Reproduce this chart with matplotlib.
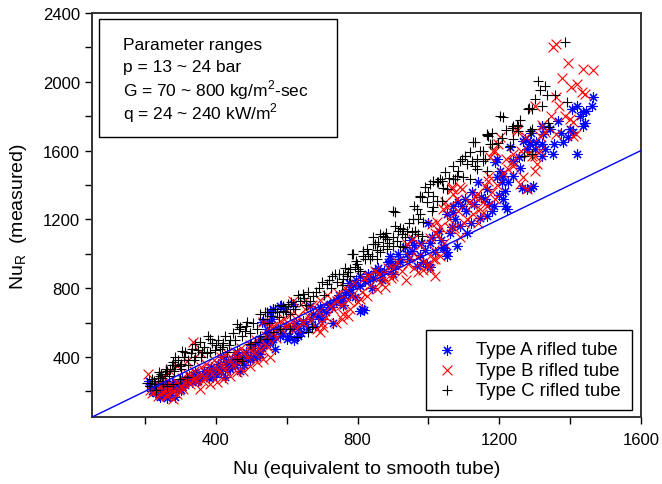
import numpy as np
import matplotlib
matplotlib.use("Agg")
from matplotlib import pyplot as plt
from matplotlib.patches import Rectangle
from matplotlib.ticker import MultipleLocator

plt.rcParams['font.family'] = ['Liberation Sans', 'DejaVu Sans']
plt.rcParams['mathtext.fontset'] = 'custom'
plt.rcParams['mathtext.rm'] = 'Liberation Sans'

# Nu (smooth-tube equivalent), Nu_R (measured)
type_a = [(1464, 1911), (1461, 1859), (1419, 1859), (1436, 1824), (1428, 1801), (1442, 1760), (1436, 1743),
          (1399, 1725), (1408, 1708), (1380, 1650), (1419, 1580), (1366, 1772), (1343, 1725), (1320, 1743),
          (1323, 1696), (1272, 1667), (1286, 1650), (1320, 1638), (1351, 1580), (1267, 1655), (1286, 1638),
          (1278, 1609), (1300, 1609), (1320, 1568), (1230, 1620), (1278, 1376), (1295, 1394), (1265, 1380),
          (1290, 1385), (1193, 1551), (1188, 1533), (1202, 1481), (1210, 1452), (1207, 1417), (1216, 1365),
          (1210, 1318), (1216, 1277), (1222, 1260), (1165, 1376), (1193, 1446), (1123, 1359), (1103, 1318),
          (1069, 1277), (1052, 1231), (1165, 1219), (1069, 1242), (1083, 1301), (1094, 1277), (1066, 1155),
          (1044, 1033), (1080, 1045), (1052, 1010), (984, 952), (919, 969), (891, 987), (891, 957), (939, 998),
          (953, 1016), (906, 928), (967, 928), (996, 940), (1004, 923), (1052, 987), (1041, 1039), (1140, 1420),
          (1150, 1330), (1180, 1250), (1120, 1180), (1010, 1100), (980, 1060), (950, 1080), (1000, 1180),
          (1030, 1130), (1110, 1120), (1240, 1540), (1260, 1500), (1170, 1290),
          (806, 667), (812, 678), (818, 672), (792, 748), (665, 696), (694, 690), (722, 707), (750, 725),
          (778, 795), (806, 812), (835, 853), (863, 893), (581, 696), (595, 678), (617, 707), (558, 620),
          (530, 603), (544, 562), (544, 521), (561, 504), (524, 504), (581, 521), (632, 521), (600, 504),
          (552, 486), (567, 446), (544, 603), (552, 661), (561, 678), (505, 399), (524, 417), (468, 318),
          (363, 289), (392, 283), (425, 283), (262, 160), (284, 166), (242, 166), (620, 500), (640, 540),
          (660, 560), (680, 580), (700, 620), (730, 600), (760, 700), (780, 760), (840, 800), (870, 850),
          (900, 880), (850, 900), (920, 950),
          (210, 260), (215, 230), (220, 200), (230, 190), (240, 180), (250, 200), (260, 190), (270, 210),
          (280, 220), (295, 230), (300, 250), (315, 255), (320, 270), (335, 280), (345, 300), (360, 290),
          (375, 310), (390, 320), (410, 330), (430, 350), (450, 360), (470, 380), (490, 400), (510, 420),
          (530, 450), (380, 280), (400, 300), (440, 330), (480, 350), (350, 260), (300, 210), (270, 180),
          (420, 400), (460, 430), (500, 470), (540, 500),
          (225, 215), (235, 245), (248, 225), (258, 240), (265, 195), (275, 250), (285, 240), (292, 205),
          (305, 270), (312, 235), (325, 290), (332, 255), (340, 310), (352, 280), (365, 320), (372, 295),
          (385, 340), (395, 310), (405, 360), (415, 320), (428, 370), (436, 340), (445, 390), (455, 350),
          (462, 410), (475, 395), (485, 430), (495, 380), (505, 450), (515, 400), (520, 480), (535, 470),
          (548, 540), (555, 500), (565, 520), (575, 560), (588, 540), (598, 580), (605, 520), (615, 560),
          (625, 600), (635, 570), (645, 610), (655, 590), (668, 620), (675, 650), (688, 640), (698, 680),
          (710, 660), (718, 700), (728, 690), (738, 730), (748, 760), (758, 740), (768, 780), (775, 830),
          (788, 820), (795, 850), (808, 870), (820, 840), (830, 880), (845, 860), (858, 920), (875, 900),
          (885, 950), (895, 930), (915, 1000), (935, 1040), (945, 970), (960, 1050), (975, 990), (990, 1020),
          (1005, 1060), (1020, 1010), (1035, 1080), (1060, 1120), (1075, 1200), (1090, 1160), (1105, 1250),
          (1130, 1290), (1145, 1210), (1160, 1320), (1185, 1280), (1200, 1340), (1225, 1420), (1240, 1450),
          (1255, 1560), (1290, 1700), (1305, 1650), (1330, 1610), (1355, 1640), (1375, 1700), (1395, 1680),
          (1405, 1840), (1445, 1830)]

type_b = [(1360, 2220), (1351, 2202), (1394, 2109), (1436, 2074), (1464, 2069), (1377, 2022), (1402, 1970),
          (1433, 1940), (1442, 1929), (1360, 1911), (1300, 1859), (1385, 1801), (1399, 1784), (1408, 1766),
          (1416, 1696), (1408, 1685), (1360, 1696), (1329, 1708), (1315, 1685), (1202, 1679), (1182, 1597),
          (1250, 1725), (1250, 1714), (1239, 1580), (1281, 1580), (1301, 1568), (1315, 1597), (1188, 1597),
          (1236, 1533), (1239, 1510), (1225, 1493), (1267, 1446), (1258, 1405), (1278, 1376), (1300, 1481),
          (1306, 1522), (1292, 1568), (1168, 1423), (1160, 1394), (1179, 1359), (1188, 1318), (1165, 1277),
          (1145, 1260), (1066, 1376), (1094, 1376), (1080, 1318), (1046, 1301), (1041, 1260), (1131, 1330),
          (1123, 1289), (1151, 1231), (1066, 1388), (1089, 1388), (1174, 1562), (1196, 1638), (1069, 1347),
          (1052, 1272), (1010, 1173), (1024, 1184), (1032, 1155), (1110, 1200), (1140, 1180), (1020, 1120),
          (1060, 1150), (1090, 1100),
          (942, 940), (967, 981), (1013, 969), (999, 928), (956, 1085), (939, 1056), (970, 894), (1004, 911),
          (1018, 969), (1018, 870), (877, 847), (936, 847), (984, 905), (1032, 987), (900, 870), (860, 880),
          (617, 725), (646, 719), (722, 696), (742, 725), (759, 649), (773, 638), (756, 620), (702, 574),
          (685, 562), (694, 545), (806, 736), (826, 754), (855, 795), (877, 806), (863, 835), (533, 603),
          (581, 608), (552, 579), (780, 680), (800, 720), (740, 600), (700, 600), (660, 640), (620, 600),
          (600, 580), (560, 540), (900, 920), (830, 870),
          (335, 486), (355, 428), (318, 376), (290, 347), (270, 318), (250, 289), (242, 230), (262, 172),
          (279, 155), (335, 271), (363, 259), (383, 242), (403, 254), (420, 271), (440, 289), (459, 312),
          (476, 318), (496, 347), (516, 370), (533, 387), (552, 399), (355, 213), (307, 213), (290, 184),
          (208, 300), (220, 190), (235, 170), (245, 185), (255, 200), (265, 215), (280, 200), (300, 230),
          (320, 260), (340, 280), (360, 300), (380, 320), (400, 340), (420, 360), (440, 380), (460, 400),
          (480, 420), (500, 440), (520, 450), (540, 470),
          (215, 210), (228, 200), (238, 215), (252, 230), (260, 180), (268, 240), (276, 225), (288, 260),
          (296, 210), (304, 280), (310, 250), (322, 300), (328, 240), (338, 320), (345, 260), (358, 340),
          (366, 280), (372, 360), (388, 300), (395, 380), (408, 320), (415, 400), (425, 330), (432, 420),
          (448, 350), (455, 430), (465, 370), (472, 450), (488, 400), (495, 470), (508, 420), (512, 500),
          (525, 440), (540, 520), (548, 460), (560, 580), (570, 510), (585, 560), (592, 620), (605, 590),
          (612, 650), (625, 570), (632, 640), (645, 600), (652, 680), (665, 610), (672, 700), (688, 660),
          (695, 730), (710, 630), (715, 760), (730, 680), (745, 770), (752, 700), (765, 800), (772, 730),
          (785, 760), (790, 830), (812, 780), (818, 860), (835, 820), (848, 900), (868, 870), (885, 920),
          (895, 860), (910, 950), (925, 900), (948, 980), (960, 920), (975, 1050), (990, 960), (1005, 1090),
          (1015, 1020), (1028, 1110), (1045, 1060), (1058, 1200), (1072, 1150), (1085, 1250), (1100, 1180),
          (1115, 1300), (1125, 1230), (1138, 1350), (1155, 1300), (1170, 1450), (1195, 1400), (1210, 1470),
          (1220, 1550), (1262, 1600), (1275, 1680), (1320, 1750), (1345, 1800), (1370, 1860), (1420, 1990)]

type_c = [(1385, 2231), (1309, 2005), (1329, 1975), (1315, 1952), (1334, 1923), (1357, 1923), (1391, 1882),
          (1284, 1847), (1202, 1801), (1210, 1795), (1239, 1743), (1253, 1743), (1236, 1731), (1292, 1725),
          (1286, 1714), (1337, 1760), (1340, 1737), (1165, 1690), (1131, 1650), (1174, 1638), (1196, 1644),
          (1230, 1626), (1239, 1667), (1154, 1597), (1292, 1580), (1281, 1842), (1292, 1842), (1165, 1696),
          (1168, 1685), (1126, 1650), (1179, 1638), (1207, 1673), (1250, 1749), (1253, 1714), (1117, 1591),
          (1094, 1551), (1089, 1539), (1123, 1539), (1137, 1551), (1154, 1539), (1160, 1551), (1137, 1493),
          (1165, 1481), (1069, 1510), (1046, 1475), (1032, 1434), (1013, 1423), (1075, 1434), (1097, 1446),
          (1117, 1434), (976, 1330), (1013, 1336), (990, 1388), (1103, 1568), (1131, 1510), (1080, 1452),
          (1069, 1434), (1052, 1376), (1038, 1423), (1027, 1417), (1038, 1306), (1024, 1306), (1013, 1272),
          (1010, 1248), (1024, 1417), (1004, 1405), (1270, 1570),
          (900, 1248), (906, 1242), (982, 1330), (967, 1260), (976, 1231), (970, 1202), (984, 1184),
          (976, 1336), (956, 1202), (863, 1115), (871, 1103), (883, 1085), (900, 1097), (914, 1132),
          (919, 1149), (928, 1144), (939, 1132), (953, 1126), (962, 1132), (970, 1115), (982, 1103),
          (871, 1045), (883, 1027), (863, 1010), (900, 1045), (919, 1045), (928, 1039), (925, 1115),
          (934, 1097), (911, 1074), (877, 1097), (857, 1068), (843, 1056), (826, 1027), (815, 987), (784, 998),
          (840, 987), (835, 969), (855, 969), (778, 911), (792, 923), (759, 882), (770, 870), (787, 998),
          (815, 1016), (849, 1056), (821, 969), (728, 870), (736, 882), (699, 835), (713, 824), (742, 835),
          (759, 853), (773, 893), (798, 940), (801, 911), (646, 765), (660, 777), (674, 754), (637, 725),
          (665, 725), (617, 696), (538, 661), (561, 678), (572, 661), (589, 667), (609, 649), (609, 562),
          (629, 515), (671, 574), (660, 545), (524, 649), (544, 661), (567, 678), (589, 696), (603, 707),
          (459, 591), (488, 603), (482, 550), (468, 574),
          (377, 521), (383, 504), (355, 486), (341, 475), (332, 446), (313, 428), (304, 434), (284, 399),
          (279, 370), (298, 347), (262, 318), (256, 300), (242, 289), (250, 259), (383, 428), (411, 446),
          (431, 428), (459, 387), (473, 376), (496, 475), (510, 486), (524, 521), (544, 504), (561, 545),
          (581, 562), (298, 271), (318, 283), (279, 242), (262, 230), (215, 230), (225, 260), (235, 280),
          (245, 300), (270, 330), (285, 350), (300, 360), (320, 380), (340, 400), (360, 430), (400, 470),
          (420, 480), (440, 500), (230, 210), (250, 240),
          (205, 250), (220, 270), (228, 240), (240, 310), (248, 275), (258, 330), (268, 290), (275, 350),
          (282, 320), (292, 380), (302, 330), (310, 400), (322, 350), (330, 420), (338, 380), (348, 440),
          (358, 400), (365, 460), (375, 420), (390, 480), (398, 440), (405, 500), (418, 460), (425, 520),
          (438, 470), (448, 540), (455, 500), (465, 560), (475, 520), (485, 580), (495, 540), (505, 600),
          (515, 560), (532, 620), (550, 600), (556, 640), (578, 630), (585, 700), (598, 660), (612, 720),
          (622, 680), (632, 760), (650, 740), (655, 700), (682, 780), (690, 800), (705, 760), (718, 850),
          (725, 800), (748, 880), (755, 820), (765, 920), (780, 870), (795, 960), (808, 900), (830, 1000),
          (845, 1100), (855, 1020), (880, 1120), (890, 1060), (905, 1160), (945, 1180), (960, 1280),
          (995, 1300), (1000, 1360), (1040, 1380), (1058, 1440), (1085, 1480), (1110, 1520), (1145, 1600),
          (1180, 1700), (1220, 1720), (1260, 1780), (1300, 1900), (1320, 1860)]

labels = ['Type A rifled tube', 'Type B rifled tube', 'Type C rifled tube']
box_lines = ['Parameter ranges', 'p = 13 ~ 24 bar',
             'G = 70 ~ 800 kg/m$^2$-sec', 'q = 24 ~ 240 kW/m$^2$']

fig = plt.figure(figsize=(6.62, 4.85), dpi=100)
ax = fig.add_axes([0.139, 0.138, 0.829, 0.833])

a = np.array(type_a)
b = np.array(type_b)
c = np.array(type_c)
ax.scatter(a[:, 0], a[:, 1], marker=(8, 2, 0), s=45, color='#0000ff', linewidths=0.8, label=labels[0])
ax.scatter(b[:, 0], b[:, 1], marker='x', s=50, color='#ff0000', linewidths=0.8, label=labels[1])
ax.scatter(c[:, 0], c[:, 1], marker='+', s=50, color='black', linewidths=0.8, label=labels[2])
ax.plot([50, 1600], [50, 1600], color='#0000ff', lw=1.0, zorder=5)

ax.set_xlim(50, 1600)
ax.set_ylim(50, 2400)
ax.xaxis.set_major_locator(MultipleLocator(400))
ax.xaxis.set_minor_locator(MultipleLocator(200))
ax.yaxis.set_major_locator(MultipleLocator(400))
ax.yaxis.set_minor_locator(MultipleLocator(200))
ax.tick_params(which='both', direction='out', length=5, width=1, labelsize=12)
ax.tick_params(axis='x', pad=6)
for sp in ax.spines.values():
    sp.set_linewidth(1.4)
    sp.set_color('#333333')

ax.set_xlabel('Nu (equivalent to smooth tube)', fontsize=14, labelpad=9)
ax.set_ylabel('Nu$_\\mathregular{R}$  (measured)', fontsize=14, labelpad=10)

ax.add_patch(Rectangle((0.0128, 0.693), 0.433, 0.292, transform=ax.transAxes,
                       fill=False, edgecolor='black', lw=1.0, zorder=6))
for i, line in enumerate(box_lines):
    ax.text(0.0565, 0.923 - i * 0.056, line, transform=ax.transAxes,
            fontsize=12.5, va='center', ha='left', zorder=7)

leg = ax.legend(loc='lower right', bbox_to_anchor=(0.984, 0.017), fontsize=13.3,
                fancybox=False, edgecolor='black', framealpha=1, borderpad=0.6,
                handlelength=1.0, handletextpad=1.1, labelspacing=0.18, borderaxespad=0)
leg.get_frame().set_linewidth(1.0)

fig.savefig('out.png', dpi=100)
